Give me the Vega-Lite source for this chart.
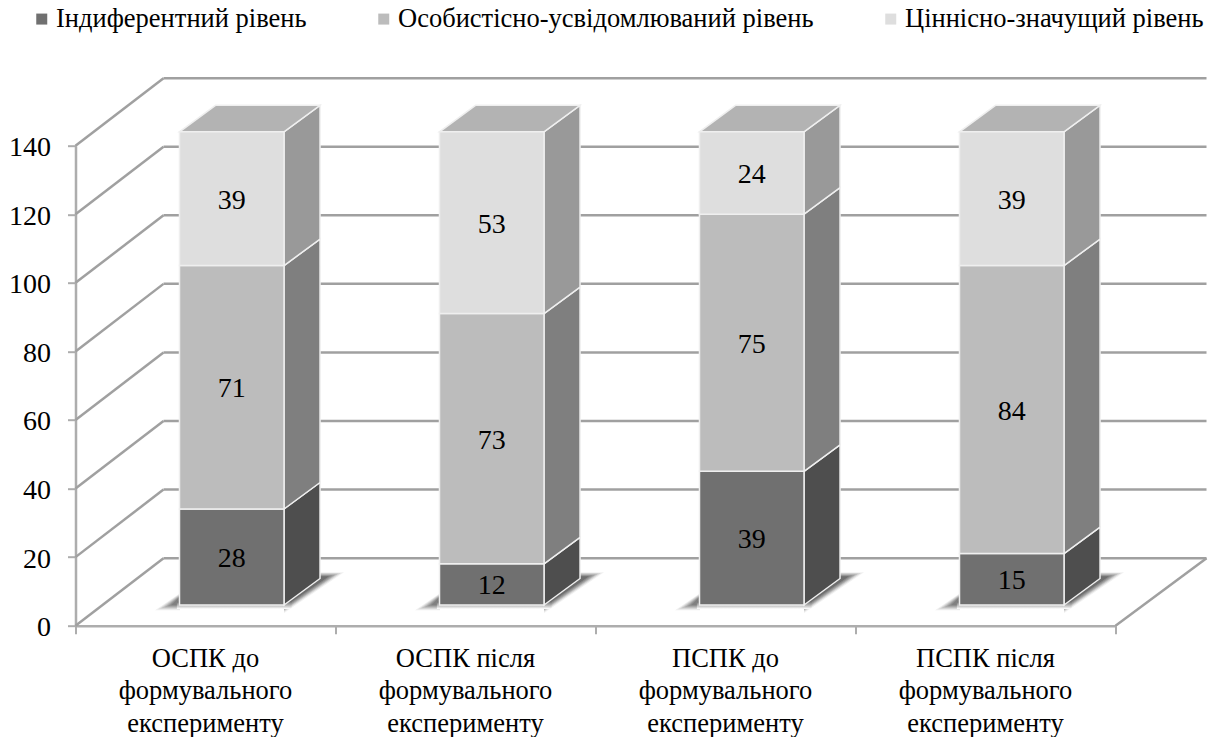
{
"$schema":"https://vega.github.io/schema/vega-lite/v6.json",
"width":1040,"height":480,
"autosize":{"type":"none"},
"padding":{"left":75.5,"top":145.7,"right":100.5,"bottom":111.3},
"background":"white",
"view":{"stroke":null},
"data":{"values":[
{"category":"ОСПК до\nформувального\nексперименту","level":"Індиферентний рівень","value":28},
{"category":"ОСПК до\nформувального\nексперименту","level":"Особистісно-усвідомлюваний рівень","value":71},
{"category":"ОСПК до\nформувального\nексперименту","level":"Ціннісно-значущий рівень","value":39},
{"category":"ОСПК після\nформувального\nексперименту","level":"Індиферентний рівень","value":12},
{"category":"ОСПК після\nформувального\nексперименту","level":"Особистісно-усвідомлюваний рівень","value":73},
{"category":"ОСПК після\nформувального\nексперименту","level":"Ціннісно-значущий рівень","value":53},
{"category":"ПСПК до\nформувального\nексперименту","level":"Індиферентний рівень","value":39},
{"category":"ПСПК до\nформувального\nексперименту","level":"Особистісно-усвідомлюваний рівень","value":75},
{"category":"ПСПК до\nформувального\nексперименту","level":"Ціннісно-значущий рівень","value":24},
{"category":"ПСПК після\nформувального\nексперименту","level":"Індиферентний рівень","value":15},
{"category":"ПСПК після\nформувального\nексперименту","level":"Особистісно-усвідомлюваний рівень","value":84},
{"category":"ПСПК після\nформувального\nексперименту","level":"Ціннісно-значущий рівень","value":39}
]},
"transform":[
{"calculate":"indexof(['Індиферентний рівень','Особистісно-усвідомлюваний рівень','Ціннісно-значущий рівень'],datum.level)","as":"lv"},
{"calculate":"indexof(['ОСПК до','ОСПК після','ПСПК до','ПСПК після'],split(datum.category,'\\n')[0])","as":"i"},
{"stack":"value","groupby":["category"],"sort":[{"field":"lv","order":"ascending"}],"as":["s0","s1"]}
],
"encoding":{
"x":{"field":"px","type":"quantitative","stack":null,"scale":{"domain":[0,4],"nice":false,"zero":false},
"axis":{"title":null,"values":[0,1,2,3,4],"labels":false,"grid":false,"domainColor":"#adadad","domainWidth":2.5,"tickColor":"#adadad","tickWidth":2,"tickSize":8}},
"y":{"field":"py","type":"quantitative","stack":null,"scale":{"domain":[0,140],"nice":false,"zero":false},
"axis":{"title":null,"values":[0,20,40,60,80,100,120,140],"grid":false,"domainColor":"#adadad","domainWidth":2.5,"tickColor":"#adadad","tickWidth":2,"tickSize":8,"labelFont":"Liberation Serif","labelFontSize":28,"labelColor":"#000000","labelPadding":17,"labelOffset":2}}
},
"layer":[
{"data":{"values":[{"v":0},{"v":20},{"v":40},{"v":60},{"v":80},{"v":100},{"v":120},{"v":140}]},
 "transform":[{"calculate":"0.3385","as":"px"},{"calculate":"datum.v+19.7","as":"py"},{"calculate":"4.35","as":"px2"}],
 "mark":{"type":"rule","color":"#a0a0a0","strokeWidth":2.5},
 "encoding":{"x2":{"field":"px2"},"y2":{"field":"py"}}},
{"data":{"values":[{"v":0},{"v":20},{"v":40},{"v":60},{"v":80},{"v":100},{"v":120},{"v":140}]},
 "transform":[{"calculate":"0","as":"px"},{"calculate":"datum.v","as":"py"},{"calculate":"0.3385","as":"px2"},{"calculate":"datum.v+19.7","as":"py2"}],
 "mark":{"type":"rule","color":"#a0a0a0","strokeWidth":2.5},
 "encoding":{"x2":{"field":"px2"},"y2":{"field":"py2"}}},
{"data":{"values":[{"v":0}]},
 "transform":[{"calculate":"4","as":"px"},{"calculate":"datum.v","as":"py"},{"calculate":"4.35","as":"px2"},{"calculate":"datum.v+19.7","as":"py2"}],
 "mark":{"type":"rule","color":"#a0a0a0","strokeWidth":2.5},
 "encoding":{"x2":{"field":"px2"},"y2":{"field":"py2"}}},

{"transform":[{"filter":"datum.lv==0"},{"calculate":"[0,1,2,3,4,5]","as":"k"},{"flatten":["k"]},{"calculate":"[0,1]","as":"t"},{"flatten":["t"]},
  {"calculate":"datum.i+0.306+datum.k*0.012+datum.t*(0.096-datum.k*0.012)","as":"px"},{"calculate":"4.5+datum.k*0.3","as":"py"},{"calculate":"4.5+datum.k*0.3+datum.t*(5-datum.k*0.5)","as":"py2"},{"calculate":"datum.category+datum.k","as":"g"}],
 "mark":{"type":"area","orient":"vertical"},
 "encoding":{"y2":{"field":"py2"},"detail":{"field":"g"},
  "color":{"field":"k","type":"ordinal","legend":null,"scale":{"domain":[0,1,2,3,4,5],"range":["#f0f0f0","#dcdcdc","#c4c4c4","#acacac","#959595","#808080"]}}}},
{"transform":[{"filter":"datum.lv==0"},{"calculate":"[0,1,2,3,4,5]","as":"k"},{"flatten":["k"]},{"calculate":"[0,1]","as":"t"},{"flatten":["t"]},
  {"calculate":"datum.i+0.802+datum.t*(0.2307-datum.k*0.0115)","as":"px"},{"calculate":"3.7+datum.k*0.35+datum.t*(11.9-datum.k*0.59)","as":"py"},{"calculate":"15.6-datum.k*0.24","as":"py2"},{"calculate":"datum.category+datum.k","as":"g"}],
 "mark":{"type":"area","orient":"vertical"},
 "encoding":{"y2":{"field":"py2"},"detail":{"field":"g"},
  "color":{"field":"k","type":"ordinal","legend":null,"scale":{"domain":[0,1,2,3,4,5],"range":["#f0f0f0","#d8d8d8","#bcbcbc","#a0a0a0","#888888","#6e6e6e"]}}}},
{"transform":[{"filter":"datum.lv==0"},
  {"calculate":"datum.i+0.39","as":"px"},{"calculate":"datum.i+0.83","as":"px2"},{"calculate":"4.9","as":"py"},{"calculate":"7","as":"py2"}],
 "mark":{"type":"rect","color":{"gradient":"linear","x1":0,"y1":0,"x2":0,"y2":1,"stops":[{"offset":0,"color":"#707070"},{"offset":1,"color":"#ffffff"}]}},
 "encoding":{"x2":{"field":"px2"},"y2":{"field":"py2"}}},

{"transform":[{"calculate":"[0,1]","as":"t"},{"flatten":["t"]},
  {"calculate":"datum.i+0.802+datum.t*0.1385","as":"px"},{"calculate":"datum.s0+6.04+datum.t*7.73","as":"py"},{"calculate":"datum.s1+6.04+datum.t*7.73","as":"py2"}],
 "mark":{"type":"area","orient":"vertical","stroke":"#efefef","strokeWidth":1.5},
 "encoding":{"y2":{"field":"py2"},"detail":{"field":"category"},
  "color":{"field":"level","type":"nominal","legend":null,"scale":{"domain":["Індиферентний рівень","Особистісно-усвідомлюваний рівень","Ціннісно-значущий рівень"],"range":["#4e4e4e","#7f7f7f","#999999"]}}}},
{"transform":[{"filter":"datum.lv==2"},{"calculate":"[0,1]","as":"t"},{"flatten":["t"]},
  {"calculate":"datum.i+0.4+datum.t*0.1385","as":"px"},{"calculate":"datum.i+0.802+datum.t*0.1385","as":"px2"},{"calculate":"datum.s1+6.04+datum.t*7.73","as":"py"}],
 "mark":{"type":"area","orient":"horizontal","color":"#b3b3b3","stroke":"#efefef","strokeWidth":1.5},
 "encoding":{"x2":{"field":"px2"},"detail":{"field":"category"}}},
{"transform":[
  {"calculate":"datum.i+0.4","as":"px"},{"calculate":"datum.i+0.802","as":"px2"},{"calculate":"datum.s0+6.04","as":"py"},{"calculate":"datum.s1+6.04","as":"py2"}],
 "mark":{"type":"rect","stroke":"#efefef","strokeWidth":1.5},
 "encoding":{"x2":{"field":"px2"},"y2":{"field":"py2"},
  "color":{"field":"level","type":"nominal","scale":{"domain":["Індиферентний рівень","Особистісно-усвідомлюваний рівень","Ціннісно-значущий рівень"],"range":["#707070","#bcbcbc","#dedede"]},
   "legend":{"title":null,"orient":"none","direction":"horizontal","legendX":-47,"legendY":-140,"columns":3,"symbolType":"square","symbolSize":121,"symbolStrokeWidth":0,"labelFont":"Liberation Serif","labelFontSize":26.5,"labelColor":"#000000","labelOffset":1,"labelLimit":600,"columnPadding":63,"padding":0}}}},
{"transform":[
  {"calculate":"datum.i+0.601","as":"px"},{"calculate":"(datum.s0+datum.s1)/2+6.04","as":"py"}],
 "mark":{"type":"text","font":"Liberation Serif","fontSize":28,"color":"#000000","baseline":"middle","align":"center","dy":2},
 "encoding":{"text":{"field":"value","type":"quantitative"}}},
{"transform":[{"filter":"datum.lv==0"},
  {"calculate":"datum.i+0.5","as":"px"},{"calculate":"0","as":"py"}],
 "mark":{"type":"text","font":"Liberation Serif","fontSize":26.5,"color":"#000000","baseline":"top","align":"center","lineBreak":"\n","lineHeight":32.5,"dy":20},
 "encoding":{"text":{"field":"category","type":"nominal"}}}
],
"resolve":{"scale":{"color":"independent"}}
}
